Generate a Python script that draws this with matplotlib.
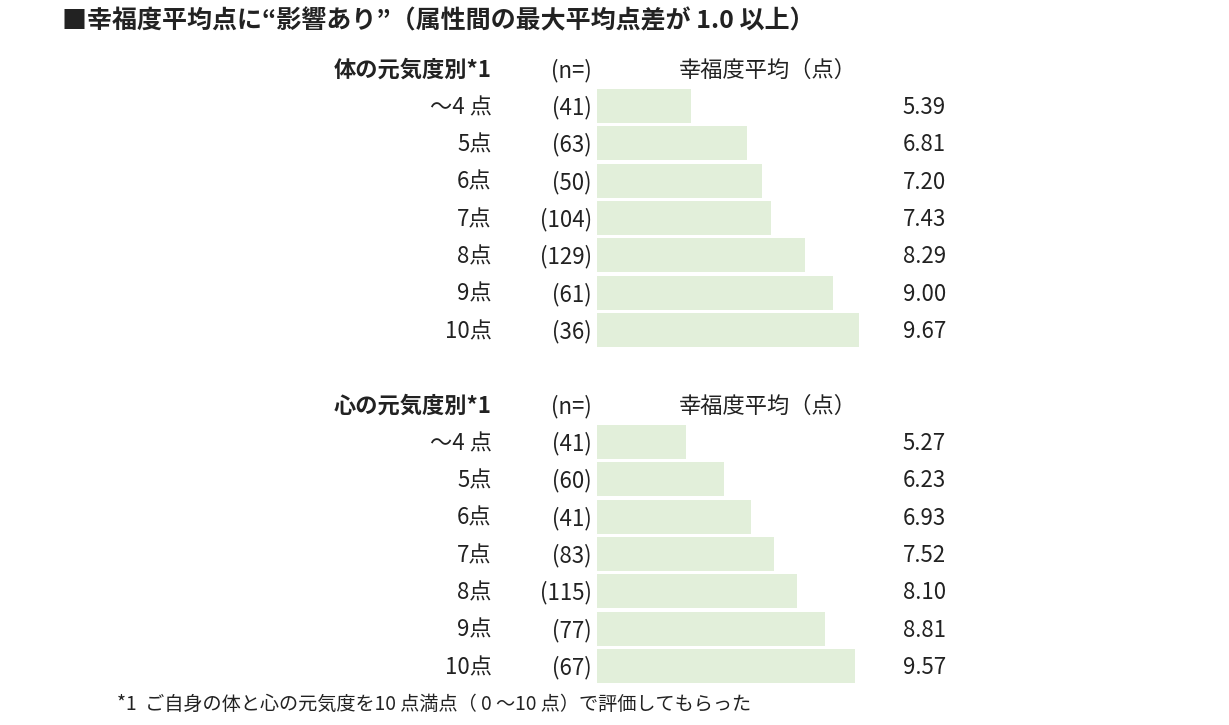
import matplotlib
matplotlib.use("Agg")
import matplotlib.pyplot as plt

plt.rcParams['font.family'] = ['Noto Sans CJK JP', 'DejaVu Sans']

# data
row_labels = ["～4 点", "5点", "6点", "7点", "8点", "9点", "10点"]
body_n = [41, 63, 50, 104, 129, 61, 36]
body_avg = [5.39, 6.81, 7.20, 7.43, 8.29, 9.00, 9.67]
mind_n = [41, 60, 41, 83, 115, 77, 67]
mind_avg = [5.27, 6.23, 6.93, 7.52, 8.10, 8.81, 9.57]
section_titles = ["体の元気度別*1", "心の元気度別*1"]

title = "■幸福度平均点に“影響あり”（属性間の最大平均点差が 1.0 以上）"
footnote = "*1  ご自身の体と心の元気度を10 点満点（ 0 ～10 点）で評価してもらった"

bar_color = "#e2efda"
text_color = "#222222"

fig = plt.figure(figsize=(12.29, 7.25), dpi=100)

def draw_section(ax, name, ns, avgs):
    y = list(range(len(row_labels)))
    ax.barh(y, avgs, left=0, height=0.91, color=bar_color)
    ax.set_xlim(3, 10)
    ax.set_ylim(6.5, -0.5)
    ax.axis("off")
    fs = 16
    dy = 0.04  # CJK font sits a bit high when centred
    ax.text(0.32, -1 + dy, name, ha="right", va="center", fontsize=fs,
            fontweight="bold", color=text_color)
    ax.text(2.87, -1 + dy, "(n=)", ha="right", va="center", fontsize=fs, color=text_color)
    ax.text(7.35, -1 + dy, "幸福度平均（点）", ha="center", va="center", fontsize=fs,
            color=text_color)
    for i in y:
        ax.text(0.32, i + dy, row_labels[i], ha="right", va="center", fontsize=fs,
                color=text_color, clip_on=False)
        ax.text(2.87, i + dy, f"({ns[i]})", ha="right", va="center", fontsize=fs,
                color=text_color, clip_on=False)
        ax.text(11.89, i + dy, f"{avgs[i]:.2f}", ha="right", va="center", fontsize=fs,
                color=text_color, clip_on=False)

ax1 = fig.add_axes([0.4858, 0.519, 0.2236, 0.3605])
draw_section(ax1, section_titles[0], body_n, body_avg)
ax2 = fig.add_axes([0.4858, 0.0556, 0.2236, 0.3605])
draw_section(ax2, section_titles[1], mind_n, mind_avg)

fig.text(62 / 1229, 1 - 21 / 725, title, ha="left", va="center", fontsize=18,
         fontweight="bold", color=text_color)
fig.text(117 / 1229, 1 - 704 / 725, footnote, ha="left", va="center", fontsize=13.8,
         color=text_color)

fig.savefig("out.png", dpi=100, facecolor="white")
